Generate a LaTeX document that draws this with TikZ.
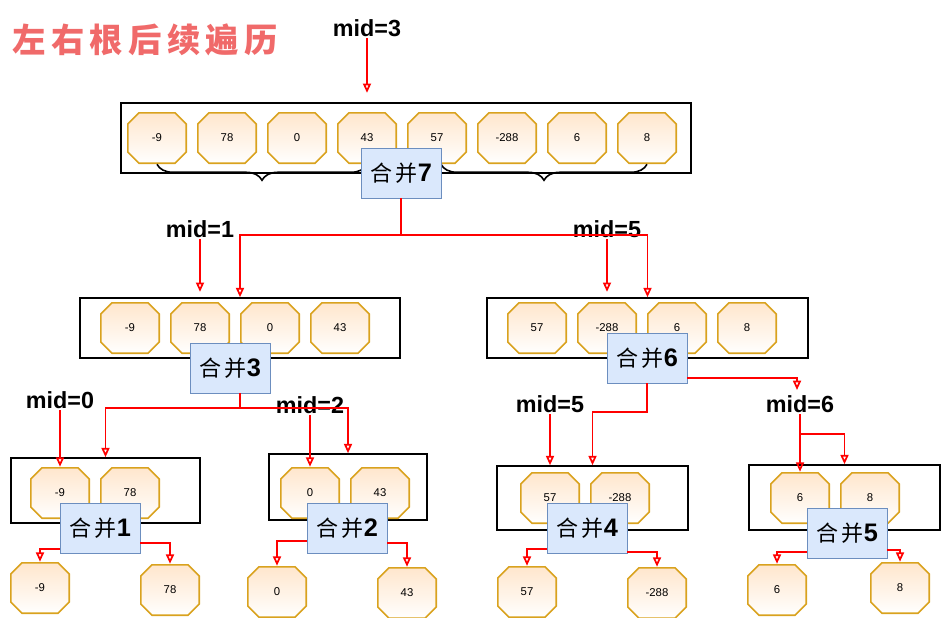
\documentclass[tikz,border=0pt]{standalone}
\usepackage{fontspec}
\setmainfont{Liberation Sans}
\newfontfamily\cjk{Noto Sans CJK SC}
\usetikzlibrary{arrows.meta,decorations.pathreplacing}

\definecolor{octfill}{HTML}{FFE6CC}
\definecolor{octline}{HTML}{D9A21E}
\definecolor{mergefill}{HTML}{DAE8FC}
\definecolor{mergeline}{HTML}{6C8EBF}
\definecolor{titlered}{HTML}{F06A6A}

\newcommand{\mergetext}[1]{{\cjk 合\,并}{\bfseries\fontsize{19}{20}\selectfont #1}}

\tikzset{
  num/.style={rectangle, minimum width=45pt, minimum height=39pt, inner sep=0pt,
    font=\fontsize{8.5}{10}\selectfont,
    path picture={
      \path[top color=octfill, bottom color=white, draw=octline, line width=1.2pt]
        ([shift={(9pt,-0.6pt)}]path picture bounding box.north west)
        -- ([shift={(-9pt,-0.6pt)}]path picture bounding box.north east)
        -- ([shift={(-0.6pt,-9pt)}]path picture bounding box.north east)
        -- ([shift={(-0.6pt,9pt)}]path picture bounding box.south east)
        -- ([shift={(-9pt,0.6pt)}]path picture bounding box.south east)
        -- ([shift={(9pt,0.6pt)}]path picture bounding box.south west)
        -- ([shift={(0.6pt,9pt)}]path picture bounding box.south west)
        -- ([shift={(0.6pt,-9pt)}]path picture bounding box.north west) -- cycle;
    }},
  array box/.style={rectangle, draw=black, line width=1.2pt, inner sep=0pt},
  mergebox/.style={rectangle, draw=mergeline, fill=mergefill, minimum width=60pt,
    minimum height=37.5pt, inner sep=0pt, font=\fontsize{16.5}{18}\selectfont},
  midlabel/.style={font=\bfseries\fontsize{17.5}{20}\selectfont, inner sep=1pt},
  red line/.style={draw=red, line width=1.3pt},
  red arrow/.style={red line, -{Triangle[open,length=7pt,width=6pt]}},
  curly/.style={draw=black, line width=1.2pt, decorate,
    decoration={brace,mirror,amplitude=12pt}},
}

\begin{document}
\begin{tikzpicture}[x=0.75pt,y=-0.75pt]
  \useasboundingbox (0,0) rectangle (941,617);

  % title
  \node[text=titlered, font=\fontsize{25}{28}\cjk\bfseries] (title) at (145,40)
    {左\kern4pt 右\kern4pt 根\kern4pt 后\kern4pt 续\kern4pt 遍\kern4pt 历};

  % array boxes
  \node[array box, minimum width=427.5pt, minimum height=52.5pt] (r1) at (406,138) {};
  \node[array box, minimum width=240pt, minimum height=45pt] (r2l) at (240,328) {};
  \node[array box, minimum width=240.75pt, minimum height=45pt] (r2r) at (647.5,328) {};
  \node[array box, minimum width=141.75pt, minimum height=48.75pt] (b1) at (105.5,490.5) {};
  \node[array box, minimum width=118.5pt, minimum height=49.5pt] (b2) at (348,487) {};
  \node[array box, minimum width=143.25pt, minimum height=48pt] (b3) at (592.5,498) {};
  \node[array box, minimum width=143.25pt, minimum height=48.75pt] (b4) at (844.5,497.5) {};

  % top row
  \node[num] (t1) at (157,138) {-9};
  \node[num] (t2) at (227,138) {78};
  \node[num] (t3) at (297,138) {0};
  \node[num] (t4) at (367,138) {43};
  \node[num] (t5) at (437,138) {57};
  \node[num] (t6) at (507,138) {-288};
  \node[num] (t7) at (577,138) {6};
  \node[num] (t8) at (647,138) {8};

  % second row
  \node[num] (p1) at (130,328) {-9};
  \node[num] (p2) at (200,328) {78};
  \node[num] (p3) at (270,328) {0};
  \node[num] (p4) at (340,328) {43};
  \node[num] (q1) at (537,328) {57};
  \node[num] (q2) at (607,328) {-288};
  \node[num] (q3) at (677,328) {6};
  \node[num] (q4) at (747,328) {8};

  % third row
  \node[num] (a1) at (60,493) {-9};
  \node[num] (a2) at (130,493) {78};
  \node[num] (c1) at (310,493) {0};
  \node[num] (c2) at (380,493) {43};
  \node[num] (e1) at (550,498) {57};
  \node[num] (e2) at (620,498) {-288};
  \node[num] (d1) at (800,498) {6};
  \node[num] (d2) at (870,498) {8};

  % leaves
  \node[num] (l1) at (40,588) {-9};
  \node[num] (l2) at (170,590) {78};
  \node[num] (l3) at (277,592) {0};
  \node[num] (l4) at (407,593) {43};
  \node[num] (l5) at (527,592) {57};
  \node[num] (l6) at (657,593) {-288};
  \node[num] (l7) at (777,590) {6};
  \node[num] (l8) at (900,588) {8};

  % braces under the top row
  \draw[curly] (t1.south) -- (t4.south);
  \draw[curly] (t4.south -| 441,0) -- (t8.south);

  % merge steps
  \node[mergebox] (m7) at (401,173) {\mergetext{7}};
  \node[mergebox] (m3) at (230,368) {\mergetext{3}};
  \node[mergebox] (m6) at (647,358) {\mergetext{6}};
  \node[mergebox] (m1) at (100,528) {\mergetext{1}};
  \node[mergebox] (m2) at (347,528) {\mergetext{2}};
  \node[mergebox] (m4) at (587,528) {\mergetext{4}};
  \node[mergebox] (m5) at (847,533) {\mergetext{5}};

  % mid labels
  \node[midlabel] (mid3) at (367,28) {mid=3};
  \node[midlabel] (mid1) at (200,229) {mid=1};
  \node[midlabel] (mid5) at (607,229) {mid=5};
  \node[midlabel] (mid0) at (60,400) {mid=0};
  \node[midlabel] (mid2) at (310,405) {mid=2};
  \node[midlabel] (mid5b) at (550,404) {mid=5};
  \node[midlabel] (mid6) at (800,404) {mid=6};

  \draw[red arrow, shorten >=7pt] (mid3.south) -- (mid3.south |- r1.north);
  \draw[red arrow, shorten >=4pt] (mid1.south) -- (mid1.south |- r2l.north);
  \draw[red arrow, shorten >=4pt] (mid5.south) -- (mid5.south |- r2r.north);
  \draw[red arrow] (mid0.south) -- (a1.north);
  \draw[red arrow] (mid2.south) -- (c1.north);
  \draw[red arrow] (mid5b.south) -- (mid5b.south |- b3.north);
  \draw[red arrow] (mid6.south) -- (d1.north);

  % splits
  \draw[red arrow] (m7.south) -- ++(0,37) -| (r2l.north);
  \draw[red arrow] (m7.south) -- ++(0,37) -| (r2r.north);
  \draw[red arrow] ([xshift=7.5pt]m3.south) -- ++(0,15) -| (b1.north);
  \draw[red arrow] ([xshift=7.5pt]m3.south) -- ++(0,15) -| (b2.north);
  \draw[red arrow] (m6.south) -- ++(0,29) -| (b3.north);
  \coordinate (k6) at (797,390);
  \draw[red arrow] ([yshift=-15pt]m6.east) -| (k6);
  \draw[red arrow] ([yshift=-15pt]mid6.south) -| (b4.north);

  \draw[red arrow] ([yshift=-16pt]m1.west) -| (l1.north);
  \draw[red arrow] ([yshift=-11pt]m1.east) -| (l2.north);
  \draw[red arrow] ([yshift=-10pt]m2.west) -| (l3.north);
  \draw[red arrow] ([yshift=-11pt]m2.east) -| (l4.north);
  \draw[red arrow] ([yshift=-16pt]m4.west) -| (l5.north);
  \draw[red arrow] ([yshift=-18pt]m4.east) -| (l6.north);
  \draw[red arrow] ([yshift=-14pt]m5.west) -| (l7.north);
  \draw[red arrow] ([yshift=-13pt]m5.east) -| (l8.north);
\end{tikzpicture}
\end{document}
